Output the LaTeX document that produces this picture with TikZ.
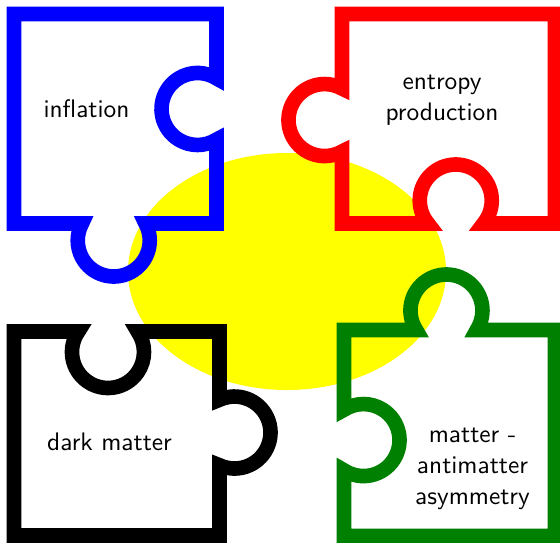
\documentclass[tikz,border=0pt]{standalone}
\usepackage{tikz}
\definecolor{pzgreen}{RGB}{0,128,0}
\definecolor{pzyellow}{RGB}{255,255,0}
\tikzset{
    piece/.style={draw=#1, line width=6pt},
    blob/.style={fill=pzyellow},
    lbl/.style={font=\sffamily\fontsize{10.4}{12.6}\selectfont, align=center, inner sep=0pt}
}

\begin{document}
\begin{tikzpicture}[x=0.41pt, y=-0.41pt]
    \useasboundingbox (0,0) rectangle (560,542);

    % Yellow blob behind the pieces
    \fill[blob] (287,271.5) ellipse[x radius=159, y radius=118.5];

    % Top left piece
    \draw[piece=blue] (14,14) -- (216.5,14) -- (216.5,78.4)
        arc[start angle=-58.2, end angle=-301.8, radius=36]
        -- (216.5,223.5) -- (145.45,223.5)
        arc[start angle=-28.2, end angle=208.2, radius=36]
        -- (14,223.5) -- cycle;

    % Top right piece
    \draw[piece=red] (342,14) -- (555,14) -- (555,223.5) -- (483.45,223.5)
        arc[start angle=39.7, end angle=-219.7, radius=36]
        -- (342,223.5) -- (342,151.5)
        arc[start angle=60.9, end angle=299.1, radius=36]
        -- cycle;

    % Bottom left piece
    \draw[piece=black] (14,331.5) -- (78.4,331.5)
        arc[start angle=214.7, end angle=-34.7, radius=36]
        -- (219.5,331.5) -- (219.5,399.8)
        arc[start angle=-114.6, end angle=114.6, radius=36]
        -- (219.5,535.5) -- (14,535.5) -- cycle;

    % Bottom right piece
    \draw[piece=pzgreen] (344,330) -- (416.2,330)
        arc[start angle=147.2, end angle=392.8, radius=36]
        -- (555,330) -- (555,536) -- (344,536) -- (344,470.3)
        arc[start angle=122.8, end angle=-122.8, radius=36]
        -- cycle;

    % Labels
    \node[lbl] (infl) at (86.5,108.3) {inflation};
    \node[lbl] (entr) at (442,100) {entropy\\production};
    \node[lbl] (dark) at (109.5,441.5) {dark matter};
    \node[lbl] (asym) at (472.5,469) {matter -\\antimatter\\asymmetry};
\end{tikzpicture}
\end{document}
